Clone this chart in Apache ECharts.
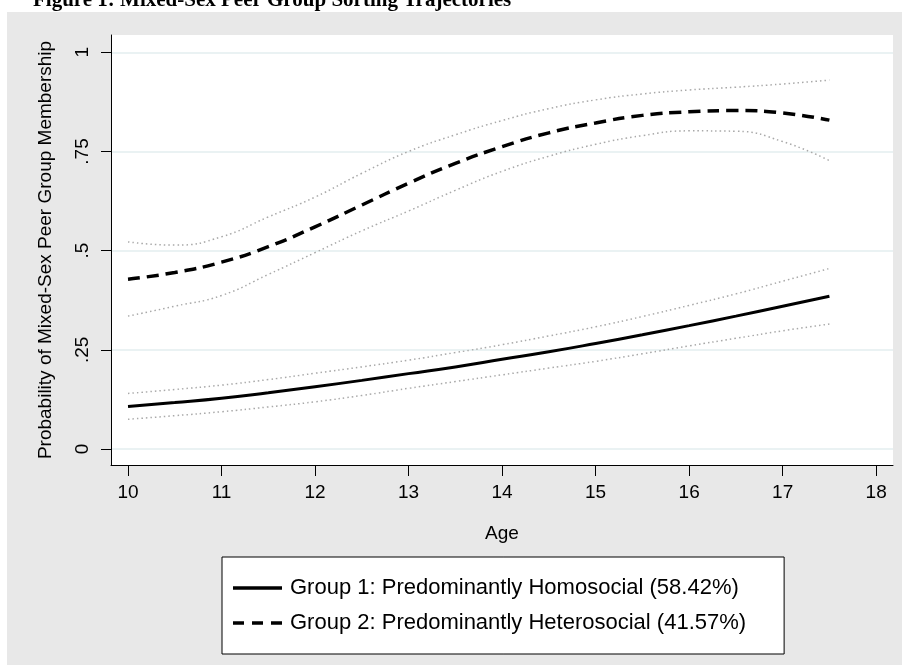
<!DOCTYPE html>
<html>
<head>
<meta charset="utf-8">
<script src="https://cdn.jsdelivr.net/npm/echarts@6/dist/echarts.min.js"></script>
<style>
  html, body { margin: 0; padding: 0; background: #fff; }
  #chart { width: 902px; height: 665px; }
</style>
</head>
<body>
<div id="chart"></div>
<script>
var ages = [10, 10.5, 11, 11.5, 12, 12.5, 13, 13.5, 14, 14.5, 15, 15.5, 16, 16.5, 17, 17.5];

// group 1: predominantly homosocial
var g1 = [0.107, 0.117, 0.128, 0.142, 0.157, 0.173, 0.190, 0.207, 0.226, 0.245, 0.266, 0.288, 0.311, 0.335, 0.360, 0.385];
var g1Upper = [0.140, 0.150, 0.161, 0.175, 0.191, 0.207, 0.224, 0.243, 0.263, 0.285, 0.308, 0.334, 0.362, 0.391, 0.423, 0.455];
var g1Lower = [0.075, 0.084, 0.094, 0.106, 0.119, 0.135, 0.153, 0.170, 0.187, 0.204, 0.221, 0.240, 0.260, 0.279, 0.298, 0.315];

// group 2: predominantly heterosocial
var g2 = [0.428, 0.445, 0.471, 0.510, 0.560, 0.615, 0.670, 0.720, 0.762, 0.797, 0.822, 0.841, 0.850, 0.853, 0.847, 0.829];
var g2Upper = [0.522, 0.514, 0.535, 0.585, 0.635, 0.695, 0.750, 0.792, 0.828, 0.858, 0.880, 0.895, 0.905, 0.912, 0.920, 0.930];
var g2Lower = [0.335, 0.360, 0.387, 0.440, 0.495, 0.550, 0.600, 0.652, 0.700, 0.738, 0.768, 0.790, 0.802, 0.801, 0.775, 0.727];

var xTicks = [10, 11, 12, 13, 14, 15, 16, 17, 18];
var yTicks = [0, 0.25, 0.5, 0.75, 1];
var yTickLabels = ['0', '.25', '.5', '.75', '1'];

var g1Name = 'Group 1: Predominantly Homosocial (58.42%)';
var g2Name = 'Group 2: Predominantly Heterosocial (41.57%)';

function pairs(vals) {
  return ages.map(function (a, i) { return [a, vals[i]]; });
}

var font = 'Liberation Sans, Arial, sans-serif';
var chart = echarts.init(document.getElementById('chart'));

var ciStyle = { color: '#a9a9a9', width: 1.5, type: [1.5, 3] };

var option = {
  backgroundColor: '#fff',
  animation: false,
  title: {
    text: 'Figure 1: Mixed-Sex Peer Group Sorting Trajectories',
    left: 28,
    top: -15,
    textStyle: { fontFamily: 'Liberation Serif, Times New Roman, serif', fontWeight: 'bold', fontSize: 21, color: '#000' }
  },
  graphic: [{
    type: 'rect',
    z: -10,
    silent: true,
    shape: { x: 7, y: 12, width: 895, height: 653 },
    style: { fill: '#e8e8e8' }
  }],
  grid: {
    left: 111, top: 35, right: 9, bottom: 200,
    show: true, backgroundColor: '#fff', borderWidth: 0
  },
  legend: {
    data: [
      { name: g1Name, icon: 'path://M0,0h49v3.5h-49z' },
      { name: g2Name, icon: 'path://M0,0h11v3.5h-11zM19,0h11v3.5h-11zM38,0h11v3.5h-11z' }
    ],
    orient: 'vertical',
    left: 222,
    top: 557,
    backgroundColor: '#fff',
    borderColor: '#000',
    borderWidth: 1,
    padding: [20, 38, 20, 11],
    itemGap: 13,
    itemWidth: 49,
    itemHeight: 4,
    selectedMode: false,
    textStyle: { fontFamily: font, fontSize: 22, color: '#000', padding: [0, 0, 0, 3] }
  },
  xAxis: {
    type: 'value',
    min: 9.818,
    max: 18.18,
    name: 'Age',
    nameLocation: 'middle',
    nameGap: 59,
    nameTextStyle: { fontFamily: font, fontSize: 19, color: '#000' },
    axisLine: { show: true, onZero: false, lineStyle: { color: '#000', width: 1 } },
    axisTick: { show: true, length: 11, customValues: xTicks, lineStyle: { color: '#000', width: 1 } },
    axisLabel: { customValues: xTicks, fontFamily: font, fontSize: 19, color: '#000', margin: 18 },
    splitLine: { show: false }
  },
  yAxis: {
    type: 'value',
    min: -0.0403,
    max: 1.0436,
    name: 'Probability of Mixed-Sex Peer Group Membership',
    nameLocation: 'middle',
    nameGap: 56,
    nameTextStyle: { fontFamily: font, fontSize: 19, color: '#000' },
    axisLine: { show: true, onZero: false, lineStyle: { color: '#000', width: 1 } },
    axisTick: { show: true, length: 10, customValues: yTicks, lineStyle: { color: '#000', width: 1 } },
    axisLabel: {
      customValues: yTicks,
      rotate: 90,
      margin: 19,
      fontFamily: font, fontSize: 19, color: '#000',
      formatter: function (v) {
        var i = yTicks.indexOf(v);
        return i >= 0 ? yTickLabels[i] : '';
      }
    },
    splitLine: { show: true, lineStyle: { color: '#eaf2f3', width: 2 } }
  },
  series: [
    { name: 'g1 upper', type: 'line', data: pairs(g1Upper), smooth: true, symbol: 'none', lineStyle: ciStyle, z: 2 },
    { name: 'g1 lower', type: 'line', data: pairs(g1Lower), smooth: true, symbol: 'none', lineStyle: ciStyle, z: 2 },
    { name: 'g2 upper', type: 'line', data: pairs(g2Upper), smooth: true, symbol: 'none', lineStyle: ciStyle, z: 2 },
    { name: 'g2 lower', type: 'line', data: pairs(g2Lower), smooth: true, symbol: 'none', lineStyle: ciStyle, z: 2 },
    { name: g1Name, type: 'line', data: pairs(g1), smooth: true, symbol: 'none', color: '#000',
      lineStyle: { color: '#000', width: 3 }, z: 3 },
    { name: g2Name, type: 'line', data: pairs(g2), smooth: true, symbol: 'none', color: '#000',
      lineStyle: { color: '#000', width: 3.5, type: [12, 7] }, z: 3 }
  ]
};

chart.setOption(option);
</script>
</body>
</html>
